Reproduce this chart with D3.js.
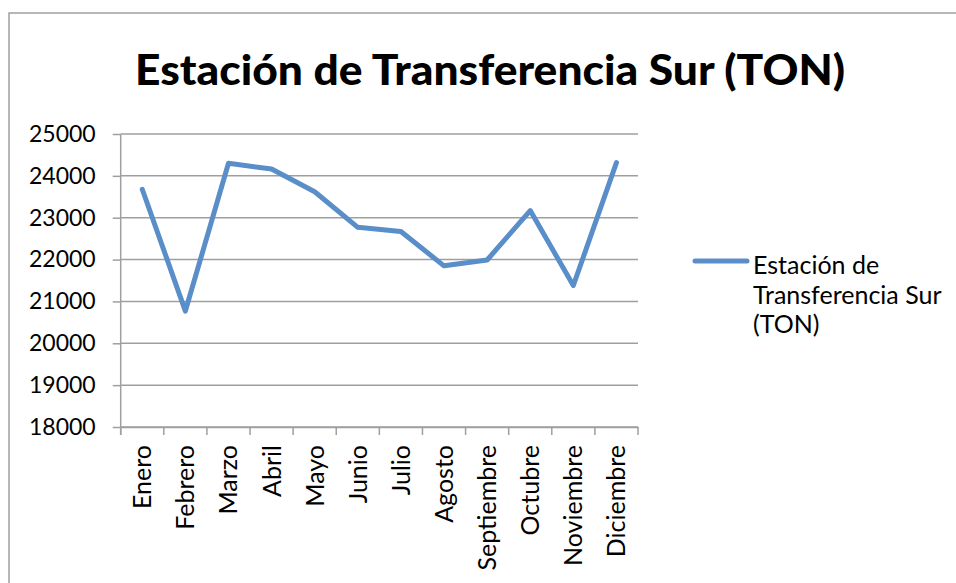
<!DOCTYPE html>
<html>
<head>
<meta charset="utf-8">
<script src="https://cdn.jsdelivr.net/npm/d3@7"></script>
<style>
  html, body { margin: 0; padding: 0; background: #fff; }
  svg { display: block; }
  text { font-family: Lato, "Open Sans", sans-serif; fill: #000; }
</style>
</head>
<body>
<svg id="chart" width="956" height="583"></svg>
<script>
const titleText = "Estación de Transferencia Sur (TON)";
const months = ["Enero", "Febrero", "Marzo", "Abril", "Mayo", "Junio", "Julio", "Agosto", "Septiembre", "Octubre", "Noviembre", "Diciembre"];
const values = [23680, 20770, 24300, 24165, 23620, 22770, 22670, 21850, 21990, 23170, 21380, 24315];
const yTicks = [18000, 19000, 20000, 21000, 22000, 23000, 24000, 25000];
const legendLines = ["Estación de", "Transferencia Sur", "(TON)"];

const svg = d3.select("#chart");
const W = 956, H = 583;
const plot = { left: 120.7, right: 638, top: 134, bottom: 427 };
const gridColor = "#9f9f9f";
const lineColor = "#5a8ec8";

svg.append("rect").attr("width", W).attr("height", H).attr("fill", "#fff");
// chart frame (extends past the window on right/bottom)
svg.append("rect")
  .attr("x", 9).attr("y", 13).attr("width", 1200).attr("height", 1000)
  .attr("fill", "none").attr("stroke", "#a0a0a0").attr("stroke-width", 1.5);

// Title
const title = svg.append("text")
  .attr("x", 490).attr("y", 85)
  .attr("text-anchor", "middle")
  .style("font-size", "42px").style("font-weight", "900")
  .text(titleText);
const tl = title.node().getComputedTextLength();
if (Math.abs(tl - 710) > 4) {
  title.attr("textLength", 710).attr("lengthAdjust", "spacingAndGlyphs");
}

const x = d3.scaleBand().domain(months).range([plot.left, plot.right]).padding(0);
const y = d3.scaleLinear().domain([18000, 25000]).range([plot.bottom, plot.top]);

// Gridlines
svg.append("g").selectAll("line").data(yTicks).join("line")
  .attr("x1", plot.left).attr("x2", plot.right)
  .attr("y1", d => y(d)).attr("y2", d => y(d))
  .attr("stroke", gridColor).attr("stroke-width", 1.5);

// Y axis
const yAxis = svg.append("g").attr("transform", `translate(${plot.left},0)`)
  .call(d3.axisLeft(y).tickValues(yTicks).tickSize(8).tickPadding(17).tickFormat(d3.format("d")));
yAxis.select(".domain").attr("stroke", gridColor).attr("stroke-width", 1.5)
  .attr("d", `M0,${plot.top}V${plot.bottom + 8}`);
yAxis.selectAll(".tick line").attr("stroke", gridColor).attr("stroke-width", 1.5);
yAxis.selectAll(".tick text").style("font-size", "23px").attr("fill", "#000");

// X axis
const xAxis = svg.append("g").attr("transform", `translate(0,${plot.bottom})`)
  .call(d3.axisBottom(x).tickSize(0).tickSizeOuter(0));
xAxis.select(".domain").attr("stroke", gridColor).attr("stroke-width", 1.5);
xAxis.selectAll(".tick text")
  .style("font-size", "25px").attr("fill", "#000")
  .attr("text-anchor", "end")
  .attr("transform", "rotate(-90)")
  .attr("x", -18).attr("y", 0).attr("dy", "0.36em");
const boundaries = months.map(m => x(m)).concat([x.range()[1]]);
xAxis.append("g").selectAll("line").data(boundaries).join("line")
  .attr("x1", d => d).attr("x2", d => d).attr("y1", 0).attr("y2", 8)
  .attr("stroke", gridColor).attr("stroke-width", 1.5);

// Data line
const line = d3.line()
  .x((d, i) => x(months[i]) + x.bandwidth() / 2)
  .y(d => y(d));
svg.append("path").datum(values)
  .attr("d", line)
  .attr("fill", "none").attr("stroke", lineColor).attr("stroke-width", 5)
  .attr("stroke-linejoin", "round").attr("stroke-linecap", "round");

// Legend
const lg = svg.append("g");
lg.append("line").attr("x1", 695).attr("x2", 747).attr("y1", 261).attr("y2", 261)
  .attr("stroke", lineColor).attr("stroke-width", 5).attr("stroke-linecap", "round");
lg.selectAll("text").data(legendLines).join("text")
  .attr("x", 753).attr("y", (d, i) => 274 + i * 29.5)
  .style("font-size", "25px")
  .text(d => d);
</script>
</body>
</html>
